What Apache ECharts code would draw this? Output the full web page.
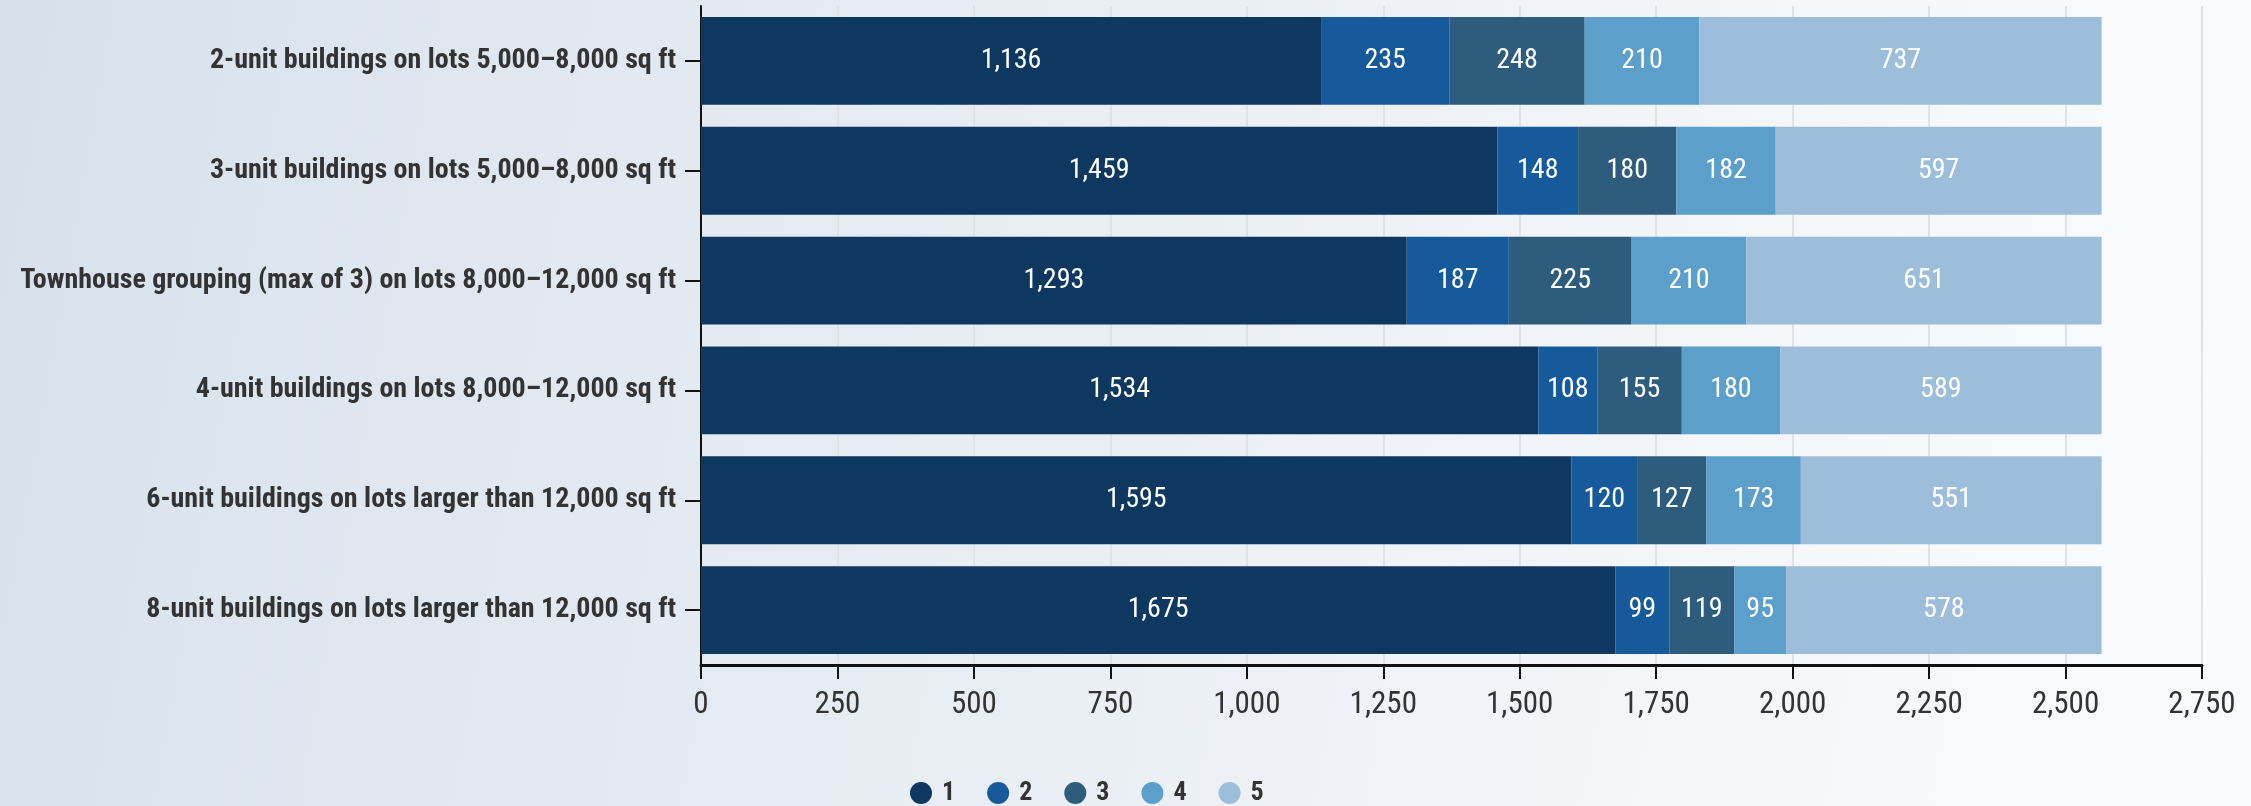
<!DOCTYPE html>
<html>
<head>
<meta charset="utf-8">
<script src="https://cdn.jsdelivr.net/npm/echarts@6/dist/echarts.min.js"></script>
<style>
  html, body { margin: 0; padding: 0; }
  body {
    width: 2251px; height: 806px; overflow: hidden;
    background: linear-gradient(100deg, #d8e1eb 0%, #e6ecf3 40%, #f4f6f9 75%, #fafbfc 100%);
  }
  #chart { width: 2251px; height: 806px; }
</style>
</head>
<body>
<div id="chart"></div>
<script>
// Lot / building type groupings (top to bottom)
const categories = [
  '2-unit buildings on lots 5,000\u20138,000 sq ft',
  '3-unit buildings on lots 5,000\u20138,000 sq ft',
  'Townhouse grouping (max of 3) on lots 8,000\u201312,000 sq ft',
  '4-unit buildings on lots 8,000\u201312,000 sq ft',
  '6-unit buildings on lots larger than 12,000 sq ft',
  '8-unit buildings on lots larger than 12,000 sq ft'
];

// Stacked series, one value per grouping
const seriesNames = ['1', '2', '3', '4', '5'];
const s1 = [1136, 1459, 1293, 1534, 1595, 1675];
const s2 = [235, 148, 187, 108, 120, 99];
const s3 = [248, 180, 225, 155, 127, 119];
const s4 = [210, 182, 210, 180, 173, 95];
const s5 = [737, 597, 651, 589, 551, 578];
const seriesValues = [s1, s2, s3, s4, s5];
const seriesColors = ['#0f3860', '#175a9c', '#2d5c7d', '#5b9fca', '#9dbedb'];

// Value axis ticks
const xMin = 0, xMax = 2750, xStep = 250;

const FONT = "'Roboto Condensed', 'Liberation Sans Narrow', 'DejaVu Sans Condensed', Roboto, sans-serif";
const fmt = v => Number(v).toLocaleString('en-US');

const chart = echarts.init(document.getElementById('chart'), null, { renderer: 'canvas' });

chart.setOption({
  backgroundColor: 'transparent',
  animation: false,
  textStyle: { fontFamily: FONT },
  grid: { left: 701, right: 49, top: 6, bottom: 141, containLabel: false },
  legend: {
    data: seriesNames,
    left: 905,
    top: 775,
    icon: 'circle',
    itemWidth: 22,
    itemHeight: 22,
    itemGap: 32,
    textStyle: { fontFamily: FONT, fontSize: 26, fontWeight: 'bold', color: '#333', padding: [0, 0, 0, 5] }
  },
  xAxis: {
    type: 'value',
    min: xMin,
    max: xMax,
    interval: xStep,
    axisLine: { show: true, lineStyle: { color: '#111', width: 3 } },
    axisTick: { show: true, length: 14, lineStyle: { color: '#111', width: 2 } },
    axisLabel: {
      margin: 25,
      fontFamily: FONT,
      fontSize: 31,
      color: '#333',
      formatter: v => fmt(v)
    },
    splitLine: { show: true, lineStyle: { color: '#dfe3e8', width: 2 } }
  },
  yAxis: {
    type: 'category',
    data: categories,
    inverse: true,
    axisLine: { show: true, lineStyle: { color: '#111', width: 2 } },
    axisTick: { show: true, length: 16, alignWithLabel: true, lineStyle: { color: '#111', width: 2 } },
    axisLabel: {
      margin: 25,
      fontFamily: FONT,
      fontSize: 28,
      fontWeight: 'bold',
      color: '#333'
    },
    splitLine: { show: false }
  },
  series: seriesValues.map((vals, i) => ({
    name: seriesNames[i],
    type: 'bar',
    stack: 'total',
    data: vals,
    barWidth: '80%',
    itemStyle: { color: seriesColors[i] },
    label: {
      show: true,
      position: 'inside',
      color: '#fff',
      fontFamily: FONT,
      fontSize: 28,
      formatter: p => fmt(p.value)
    }
  }))
});
</script>
</body>
</html>
